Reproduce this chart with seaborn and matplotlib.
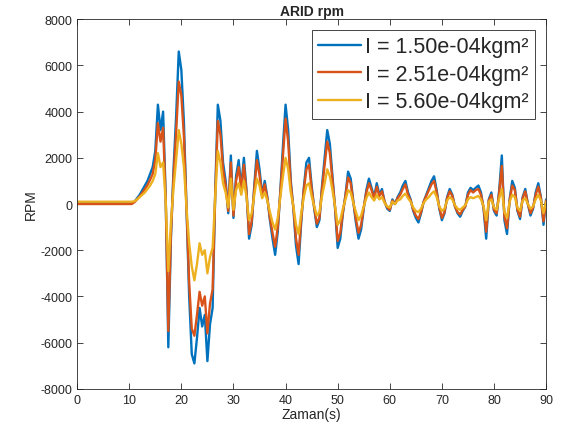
import numpy as np
import pandas as pd
import matplotlib
matplotlib.use("Agg")
import matplotlib.pyplot as plt
import seaborn as sns

# time axis (s): flat start, then 0.5 s steps
zaman = [0, 10.5] + np.arange(11, 90.25, 0.5).tolist()

rpm_150 = [50, 50,
           100, 250, 400, 600, 800, 1000, 1300, 1600, 2300, 4300,
           3200, 4000, 300, -6200, -1500, 1500, 3800, 6600, 5800, 3500,
           -300, -4000, -6500, -6900, -5800, -4500, -5300, -4800, -6800, -5200,
           -4500, 500, 4300, 3600, 1800, 1000, -400, 2100, -600, 1200,
           1900, 700, 2000, 600, -1500, -900, 800, 2300, 1500, 400,
           1000, 300, -700, -1500, -2200, -1200, 600, 2500, 4300, 3200,
           1000, -200, -1800, -2600, -800, 700, 1800, 2000, 800, -200,
           -1000, -700, 800, 2000, 3200, 2600, 1200, -200, -1900, -1500,
           -400, 400, 1400, 1100, 100, -800, -1500, -1100, -200, 600,
           1100, 700, 300, 900, 400, 650, 100, -200, -300, 200,
           0, 300, 500, 800, 1000, 500, 200, -300, -600, -800,
           -400, 100, 400, 700, 1000, 1200, 600, -200, -700, -400,
           300, 650, 400, -100, -400, -550, -300, -100, 500, 700,
           600, 700, 800, 500, -200, -1500, 200, 500, -300, -500,
           600, 2100, -700, -1300, 200, 1000, 700, -300, -650, 300,
           650, 0, -500, -200, 500, 900, 300, -900, 200]

rpm_251 = [0, 0,
           80, 200, 330, 480, 650, 820, 1050, 1300, 1900, 3500,
           2700, 3300, 200, -5500, -1300, 1200, 3100, 5300, 4700, 2900,
           -300, -3400, -5400, -5700, -4800, -3800, -4400, -4000, -5600, -4300,
           -3700, 400, 3600, 3000, 1500, 800, -300, 1800, -500, 1000,
           1600, 600, 1700, 500, -1300, -750, 650, 1900, 1250, 350,
           850, 250, -600, -1250, -1850, -1000, 500, 2100, 3700, 2700,
           850, -150, -1500, -2200, -650, 600, 1500, 1700, 650, -150,
           -850, -600, 650, 1700, 2700, 2200, 1000, -150, -1600, -1250,
           -350, 350, 1150, 900, 100, -650, -1250, -900, -150, 500,
           900, 600, 250, 750, 350, 550, 100, -150, -250, 150,
           0, 250, 400, 650, 850, 400, 150, -250, -500, -650,
           -350, 100, 350, 600, 850, 1000, 500, -150, -600, -350,
           250, 550, 350, -100, -350, -450, -250, -100, 400, 600,
           500, 600, 650, 400, -150, -1200, 150, 400, -250, -400,
           500, 1650, -550, -1050, 150, 800, 600, -250, -550, 250,
           550, 0, -400, -150, 400, 750, 250, -750, 150]

rpm_560 = [100, 100,
           120, 200, 300, 400, 500, 650, 800, 1000, 1300, 2200,
           1600, 1800, 100, -2900, -800, 700, 1900, 3200, 2600, 1600,
           -200, -1700, -2700, -3300, -2600, -1700, -2200, -2000, -3000, -2300,
           -1900, 300, 2300, 1800, 900, 500, -150, 1100, -250, 600,
           900, 400, 1000, 300, -700, -400, 400, 1100, 800, 250,
           500, 150, -350, -800, -1100, -600, 300, 1200, 2000, 1500,
           500, -100, -900, -1300, -400, 300, 800, 900, 350, -100,
           -500, -350, 350, 900, 1500, 1200, 600, -100, -900, -700,
           -200, 200, 600, 500, 50, -350, -700, -500, -100, 250,
           500, 300, 150, 400, 200, 300, 50, -100, -150, 100,
           0, 150, 200, 350, 450, 250, 100, -150, -300, -350,
           -200, 50, 200, 300, 450, 550, 300, -100, -300, -200,
           150, 300, 200, -50, -200, -250, -150, -50, 200, 300,
           250, 300, 350, 200, -100, -700, 100, 200, -150, -250,
           250, 650, -350, -600, 100, 400, 300, -150, -300, 150,
           250, 0, -200, -100, 200, 400, 150, -400, 100]

labels = ["I = 1.50e-04kgm²", "I = 2.51e-04kgm²", "I = 5.60e-04kgm²"]
colors = ["#0072BD", "#D95319", "#EDB120"]

df = pd.concat([
    pd.DataFrame({"t": zaman, "rpm": vals, "I": lab})
    for vals, lab in zip([rpm_150, rpm_251, rpm_560], labels)
])

sns.set_style("white")
plt.rcParams["font.family"] = ["Liberation Sans", "DejaVu Sans"]
plt.rcParams["xtick.direction"] = "in"
plt.rcParams["ytick.direction"] = "in"
plt.rcParams["axes.unicode_minus"] = False

fig = plt.figure(figsize=(5.63, 4.39), dpi=100)
ax = fig.add_axes([0.137, 0.112, 0.833, 0.842])

sns.lineplot(data=df, x="t", y="rpm", hue="I", palette=colors,
             linewidth=1.7, estimator=None, sort=False, ax=ax)

ax.set_xlim(0, 90)
ax.set_ylim(-8000, 8000)
ax.set_xticks(range(0, 91, 10))
ax.set_yticks(range(-8000, 8001, 2000))
ax.tick_params(colors="#262626", labelsize=9, length=4, width=0.6,
               top=True, right=True, bottom=True, left=True)
for s in ax.spines.values():
    s.set_color("#262626")
    s.set_linewidth(0.6)

ax.set_xlabel("Zaman(s)", fontsize=10, color="#262626", labelpad=1)
ax.set_ylabel("RPM", fontsize=10, color="#262626", labelpad=2)
ax.set_title("ARID rpm", fontsize=10, fontweight="bold", pad=3)

leg = ax.legend(loc="upper right", fontsize=15.5, handlelength=2.0,
                handletextpad=0.2, borderpad=0.3, labelspacing=0.3,
                fancybox=False, framealpha=1, borderaxespad=0.5)
leg.get_frame().set_edgecolor("#262626")
leg.get_frame().set_linewidth(0.6)

plt.savefig("out.png", dpi=100)
